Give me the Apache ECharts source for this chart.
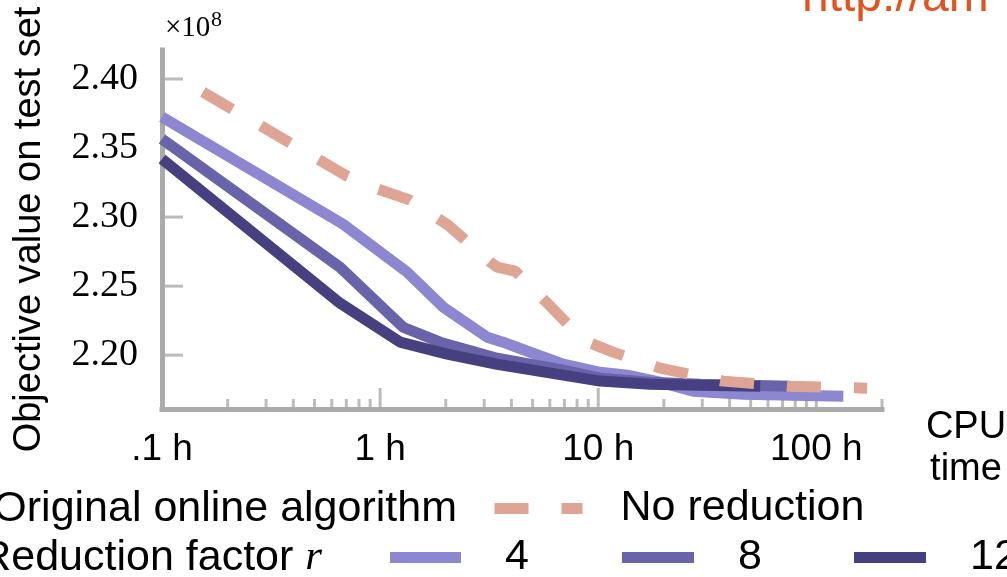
<!DOCTYPE html>
<html>
<head>
<meta charset="utf-8">
<script src="https://cdn.jsdelivr.net/npm/echarts@6/dist/echarts.min.js"></script>
<style>
  html, body { margin: 0; padding: 0; background: #fff; }
  #chart { width: 1007px; height: 577px; }
</style>
</head>
<body>
<div id="chart"></div>
<script>
// ---- data (CPU time in hours, objective in 1e8) ----
const timesR4 = [0.1, 0.676, 1.33, 1.95, 3.10, 3.66, 4.88, 6.91, 10.2, 13.6, 19.2, 27.3, 46.2, 133]
const valuesR4 = [2.3725, 2.2949, 2.2601, 2.2347, 2.2130, 2.2094, 2.2021, 2.1935, 2.1876, 2.1855, 2.1804, 2.1739, 2.1717, 2.1703]

const timesR8 = [0.1, 0.655, 1.275, 1.884, 3.44, 6.91, 10.2, 17.3, 29.4, 76]
const valuesR8 = [2.3565, 2.2637, 2.2202, 2.2094, 2.1978, 2.1891, 2.1833, 2.1804, 2.1790, 2.1775]

const timesR12 = [0.1, 0.655, 1.236, 2.03, 3.44, 6.91, 10.2, 17.3, 29.4, 55.3]
const valuesR12 = [2.342, 2.2376, 2.2094, 2.2007, 2.1934, 2.1855, 2.1812, 2.1790, 2.1782, 2.1775]

const timesNoRed = [0.154, 0.691, 0.949, 1.373, 2.05, 3.20, 3.44, 4.16, 6.03, 8.53, 11.7, 19.2, 37.4, 74.4, 171]
const valuesNoRed = [2.3906, 2.3304, 2.3210, 2.3123, 2.2942, 2.2674, 2.2638, 2.2608, 2.2355, 2.2109, 2.2022, 2.1906, 2.1812, 2.1775, 2.1761]

const xLabelValues = [0.1, 1, 10, 100]
const xLabelTexts = ['.1 h', '1 h', '10 h', '100 h']
const xMajorTicks = [1, 10]
const xMinorTicks = [0.2, 0.3, 0.4, 0.5, 0.6, 0.7, 0.8, 0.9, 2, 3, 4, 5, 6, 7, 8, 9,
  20, 30, 40, 50, 60, 70, 80, 90, 100, 200]
const yTicks = [2.20, 2.25, 2.30, 2.35, 2.40]

// ================ settings =====================
const X_MIN = 0.1
const X_MAX = 200
const Y_MIN = 2.161
const Y_MAX = 2.421
const AXIS_GRAY = '#aaaaaa'
const SANS = '"Liberation Sans", Arial, sans-serif'
const SERIF = '"Liberation Serif", "Times New Roman", serif'
const LINE_W = 11

const pairs = (xs, ys) => xs.map((x, i) => [x, ys[i]])

const lineSeries = (name, xs, ys, color, type) => ({
  name,
  type: 'line',
  data: pairs(xs, ys),
  symbol: 'none',
  silent: true,
  color,
  lineStyle: { color, width: LINE_W, type: type || 'solid' }
})

const tickSeries = (data, size, offset) => ({
  type: 'scatter',
  data,
  symbol: 'rect',
  symbolSize: size,
  symbolOffset: offset,
  itemStyle: { color: AXIS_GRAY },
  silent: true,
  clip: false,
  z: 1
})

const legendItem = (name, left, top, width, extra) => Object.assign({
  data: [name],
  left,
  top,
  padding: 0,
  itemWidth: width,
  itemHeight: 11,
  selectedMode: false,
  textStyle: { fontSize: 43, fontFamily: SANS, color: '#000', padding: [0, 0, 0, 39] }
}, extra)

const textEl = (text, x, y, size, family, align, extra) => ({
  type: 'text', x, y, silent: true,
  style: Object.assign({
    text, fill: '#000', fontSize: size, fontFamily: family,
    align, verticalAlign: 'middle', textAlign: align, textVerticalAlign: 'middle'
  }, extra)
})

const option = {
  animation: false,
  backgroundColor: '#fff',
  grid: { left: 162, right: 125, top: 50, bottom: 168 },
  xAxis: {
    type: 'log',
    logBase: 10,
    min: X_MIN,
    max: X_MAX,
    axisLine: { onZero: false, lineStyle: { color: AXIS_GRAY, width: 5, cap: 'square' } },
    axisTick: { show: false },
    splitLine: { show: false },
    axisLabel: {
      margin: 22,
      fontSize: 37,
      fontFamily: SANS,
      color: '#000',
      formatter: (v) => {
        const i = xLabelValues.findIndex((t) => Math.abs(Math.log10(t) - Math.log10(v)) < 1e-6)
        return i < 0 ? '' : xLabelTexts[i]
      }
    }
  },
  yAxis: {
    type: 'value',
    min: Y_MIN,
    max: Y_MAX,
    axisLine: { show: true, lineStyle: { color: AXIS_GRAY, width: 5, cap: 'square' } },
    axisTick: { show: false },
    splitLine: { show: false },
    axisLabel: {
      margin: 24,
      fontSize: 38,
      fontFamily: SERIF,
      color: '#000',
      showMinLabel: false,
      showMaxLabel: false,
      formatter: (v) => v.toFixed(2)
    },
    name: 'Objective value on test set',
    nameLocation: 'middle',
    nameGap: 113,
    nameTextStyle: { fontSize: 38, fontFamily: SANS, color: '#000' }
  },
  legend: [
    legendItem('No reduction', 489, 487, 88, {
      itemStyle: { opacity: 0 },
      lineStyle: { width: LINE_W, type: [34, 33], color: '#dea595' },
      textStyle: { fontSize: 43, fontFamily: SANS, color: '#000', padding: [0, 0, 0, 33] }
    }),
    legendItem('4', 390, 536, 71, { icon: 'rect' }),
    legendItem('8', 622, 536, 72, { icon: 'rect' }),
    legendItem('12', 854, 536, 72, { icon: 'rect' })
  ],
  graphic: [
    textEl('http://am', 802, -2, 48, SANS, 'left', { fill: '#e1541f' }),
    textEl('×10', 165, 28, 29, SERIF, 'left'),
    textEl('8', 211, 20, 22, SERIF, 'left'),
    textEl('CPU\ntime', 966, 449, 38, SANS, 'center', { lineHeight: 42 }),
    textEl('Original online algorithm', 457, 509, 43, SANS, 'right'),
    textEl('{a|Reduction factor }{b|r}', 322, 558, 43, SANS, 'right', {
      rich: {
        a: { fontSize: 43, fontFamily: SANS, fill: '#000' },
        b: { fontSize: 43, fontFamily: SERIF, fontStyle: 'italic', fill: '#000' }
      }
    })
  ],
  series: [
    tickSeries(xMinorTicks.map((t) => [t, Y_MIN]), [3, 10], [0, -5]),
    tickSeries(xMajorTicks.map((t) => [t, Y_MIN]), [3, 21], [0, -10.5]),
    tickSeries(yTicks.map((v) => [X_MIN, v]), [21, 3], [10.5, 0]),
    lineSeries('4', timesR4, valuesR4, '#8c87d0'),
    lineSeries('8', timesR8, valuesR8, '#6963aa'),
    lineSeries('12', timesR12, valuesR12, '#464080'),
    lineSeries('No reduction', timesNoRed, valuesNoRed, '#dea595', [34, 33])
  ]
}

const myChart = echarts.init(document.getElementById('chart'), null, { renderer: 'canvas' })
myChart.setOption(option)
</script>
</body>
</html>
